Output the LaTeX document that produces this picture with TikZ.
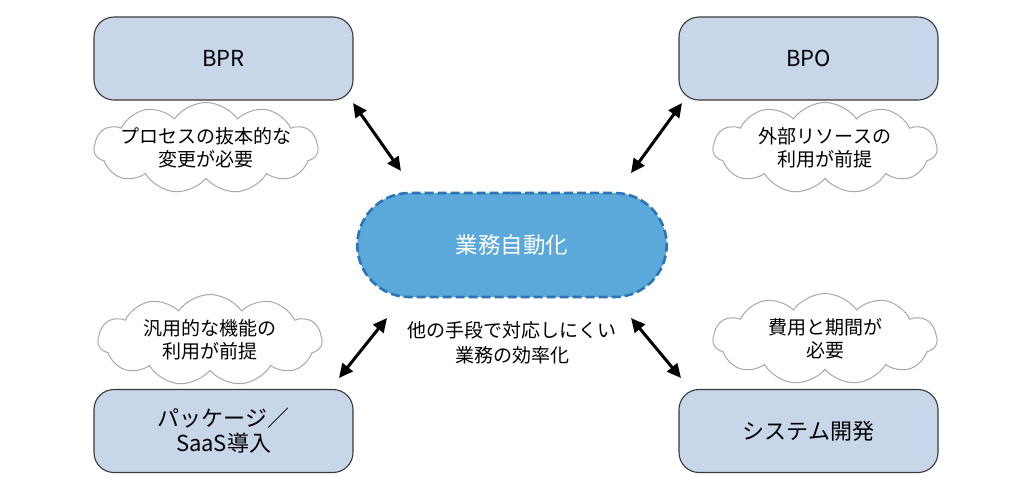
\documentclass[tikz,border=0pt]{standalone}
\usepackage{fontspec}
\setmainfont{Noto Sans CJK JP}
\usetikzlibrary{shapes.symbols,shapes.misc,arrows.meta}
\definecolor{boxfill}{HTML}{C7D6E9}
\definecolor{boxline}{HTML}{3A3A3A}
\definecolor{centerfill}{HTML}{5BA8DA}
\definecolor{centerline}{HTML}{2C74B5}
\definecolor{cloudline}{HTML}{A8A8A8}
\tikzset{
  mbox/.style={draw=boxline, line width=1.1pt, fill=boxfill, rounded corners=20pt,
    minimum width=259pt, minimum height=83pt, align=center, inner sep=0pt,
    font=\fontsize{22}{25}\selectfont},
  cloudbox/.style={cloud, cloud puffs=11, cloud puff arc=110, draw=cloudline, line width=1pt,
    fill=white, minimum width=224pt, minimum height=91pt, inner sep=0pt},
  cloudtext/.style={align=center, inner sep=0pt, font=\fontsize{19}{23}\selectfont},
  darrow/.style={line width=3pt, {Triangle[length=14pt,width=13pt]}-{Triangle[length=14pt,width=13pt]}},
}
\begin{document}
\begin{tikzpicture}[x=1pt,y=-1pt]
\useasboundingbox[fill=white] (0,0) rectangle (1030,499);
% clouds
\node[cloudbox] (c1) at (206,148) {};
\node[cloudtext] (t1) at (c1.center) {プロセスの抜本的な\\変更が必要};
\node[cloudbox] (c2) at (825,148) {};
\node[cloudtext] (t2) at (c2.center) {外部リソースの\\利用が前提};
\node[cloudbox] (c3) at (210,340) {};
\node[cloudtext] (t3) at (c3.center) {汎用的な機能の\\利用が前提};
\node[cloudbox] (c4) at (825,339) {};
\node[cloudtext] (t4) at (c4.center) {費用と期間が\\必要};
% boxes
\node[mbox] (bpr) at (223.5,58.5) {BPR};
\node[mbox] (bpo) at (808.5,58.5) {BPO};
\node[mbox] (pkg) at (223.5,431) {パッケージ／\\SaaS導入};
\node[mbox] (sys) at (808.5,431) {システム開発};
% center
\node[rounded rectangle, fill=centerfill, draw=centerline, line width=2.6pt,
  dash pattern=on 9pt off 4pt, minimum width=316pt, minimum height=104pt,
  text=white, font=\fontsize{22.5}{25}\selectfont] (auto) at (512,245) {業務自動化};
\node[align=center, font=\fontsize{19}{25}\selectfont] (eff) at (512,343) {他の手段で対応しにくい\\業務の効率化};
% arrows
\coordinate (a1s) at (353,103);
\coordinate (a1e) at (401,171);
\coordinate (a2s) at (682,103);
\coordinate (a2e) at (631,173);
\coordinate (a3s) at (387,318);
\coordinate (a3e) at (339,378);
\coordinate (a4s) at (631,318);
\coordinate (a4e) at (681,378);
\draw[darrow] (a1s) -- (a1e);
\draw[darrow] (a2s) -- (a2e);
\draw[darrow] (a3s) -- (a3e);
\draw[darrow] (a4s) -- (a4e);
\end{tikzpicture}
\end{document}
